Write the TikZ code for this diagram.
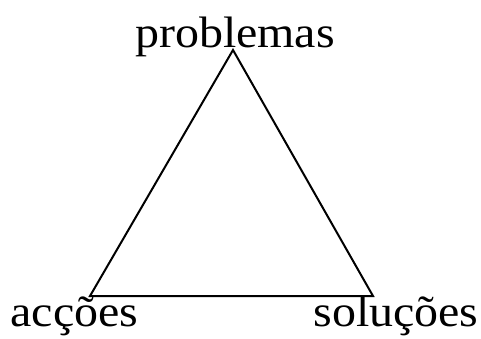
\documentclass[tikz,border=0pt]{standalone}
\usepackage{fontspec}
\setmainfont{Liberation Serif}
\begin{document}
\begin{tikzpicture}[x=1pt,y=-1pt,
  lbl/.style={font=\fontsize{44}{50}\selectfont, inner sep=0pt, anchor=base},
  edge/.style={line width=2pt, line join=miter}]
\newcommand{\wide}[1]{\scalebox{1.09}[1]{#1}}
\useasboundingbox (0,0) rectangle (481,338);
\coordinate (top) at (233,50);
\coordinate (bl) at (90,296);
\coordinate (br) at (373,296);
\draw[edge] (top) -- (bl) -- (br) -- cycle;
\node[lbl] (p) at (235,47) {\wide{problemas}};
\node[lbl] (a) at (74.5,326) {\wide{acções}};
\node[lbl] (s) at (396,326) {\wide{soluções}};
\end{tikzpicture}
\end{document}
